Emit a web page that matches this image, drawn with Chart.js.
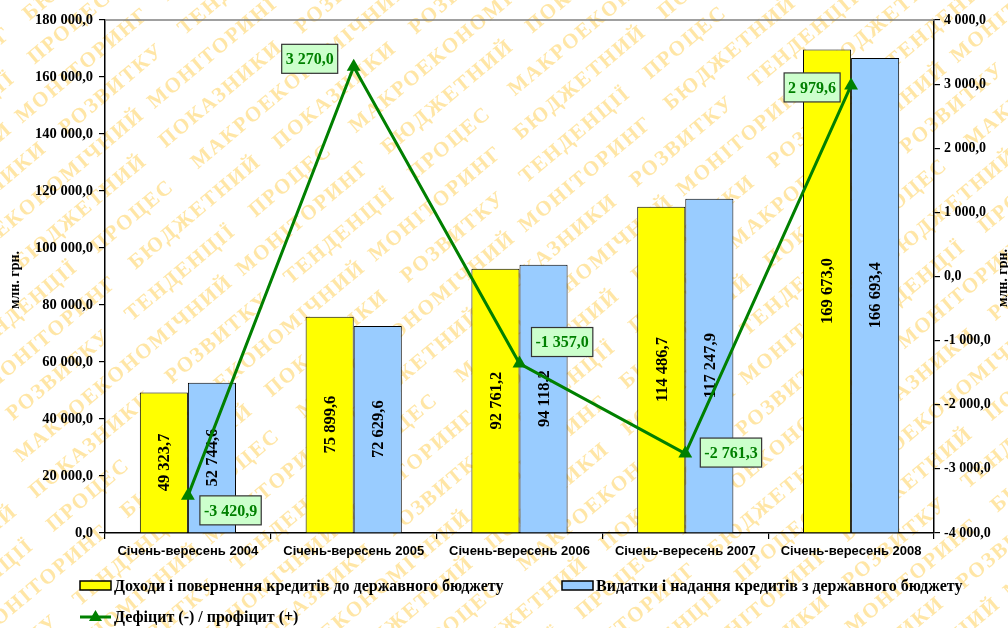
<!DOCTYPE html>
<html>
<head>
<meta charset="utf-8">
<script src="https://cdn.jsdelivr.net/npm/chart.js@4.4.1/dist/chart.umd.min.js"></script>
<style>
  html, body { margin: 0; padding: 0; background: #fff; }
  #wrap { width: 1008px; height: 628px; }
</style>
</head>
<body>
<div id="wrap"><canvas id="myChart" width="1008" height="628"></canvas></div>
<script>
const categories = ['Січень-вересень 2004', 'Січень-вересень 2005', 'Січень-вересень 2006', 'Січень-вересень 2007', 'Січень-вересень 2008'];
const revenues = [49323.7, 75899.6, 92761.2, 114486.7, 169673.0];
const spending = [52744.6, 72629.6, 94118.2, 117247.9, 166693.4];
const balance  = [-3420.9, 3270.0, -1357.0, -2761.3, 2979.6];

const seriesNames = ['Доходи і повернення кредитів до державного бюджету', 'Видатки і надання кредитів з державного бюджету', 'Дефіцит (-) / профіцит (+)'];
const unitLabel = 'млн. грн.';
const watermarkWords = ['ТЕНДЕНЦІЇ', 'ПРОЦЕС', 'МАКРОЕКОНОМІЧНИЙ', 'МОНІТОРИНГ', 'БЮДЖЕТНИЙ', 'ПОКАЗНИКИ', 'РОЗВИТКУ'];

// where the balance labels sit relative to their point
const balanceLabelSide = ['rightBelow', 'leftAbove', 'rightAbove', 'right', 'left'];

const SERIF = '"Liberation Serif", "Times New Roman", serif';
const SANS = '"Liberation Sans", Arial, sans-serif';
const GREEN = '#008000';

function fmt(v) {
    const neg = v < 0;
    let s = Math.abs(v).toFixed(1).split('.');
    let int = s[0].replace(/\B(?=(\d{3})+(?!\d))/g, ' ');
    return (neg ? '-' : '') + int + ',' + s[1];
}

// pale diagonal text behind everything
const watermark = {
    id: 'watermark',
    beforeDraw(chart) {
        const ctx = chart.ctx;
        ctx.save();
        ctx.fillStyle = '#fff';
        ctx.fillRect(0, 0, chart.width, chart.height);
        ctx.fillStyle = '#ffe6a6';
        ctx.font = 'bold 21px ' + SERIF;
        ctx.textBaseline = 'middle';
        ctx.translate(chart.width / 2, chart.height / 2);
        ctx.rotate(-40 * Math.PI / 180);
        let row = 0;
        for (let y = -720; y < 720; y += 37) {
            let x = -900 + (row * 53) % 150;
            let k = row * 3;
            while (x < 900) {
                const w = watermarkWords[k % watermarkWords.length];
                ctx.fillText(w.split('').join('\u200A'), x, y);
                x += ctx.measureText(w).width + 40;
                k++;
            }
            row++;
        }
        ctx.restore();
    }
};

const frameLines = {
    id: 'frameLines',
    beforeDatasetsDraw(chart) {
        const { ctx, chartArea } = chart;
        ctx.save();
        ctx.strokeStyle = '#808080';
        ctx.lineWidth = 1.5;
        ctx.beginPath();
        ctx.moveTo(chartArea.left, chartArea.top);
        ctx.lineTo(chartArea.right, chartArea.top);
        ctx.stroke();
        ctx.restore();
    }
};

// vertical value labels in the middle of each bar
const barLabels = {
    id: 'barLabels',
    afterDatasetDraw(chart, args) {
        if (args.index > 1) return;
        const ctx = chart.ctx;
        const data = chart.data.datasets[args.index].data;
        ctx.save();
        ctx.fillStyle = '#000';
        ctx.font = 'bold 16.5px ' + SERIF;
        ctx.textAlign = 'center';
        ctx.textBaseline = 'middle';
        args.meta.data.forEach((bar, i) => {
            const cy = (bar.y + bar.base) / 2;
            ctx.save();
            ctx.translate(bar.x, cy);
            ctx.rotate(-Math.PI / 2);
            ctx.fillText(fmt(data[i]), 0, 1);
            ctx.restore();
        });
        ctx.restore();
    }
};

const balanceLabels = {
    id: 'balanceLabels',
    afterDatasetsDraw(chart) {
        const ctx = chart.ctx;
        const meta = chart.getDatasetMeta(2);
        ctx.save();
        ctx.font = 'bold 16px ' + SERIF;
        ctx.textBaseline = 'middle';
        meta.data.forEach((pt, i) => {
            const txt = fmt(balance[i]);
            const w = ctx.measureText(txt).width + 8;
            const h = 29;
            let bx, by;
            switch (balanceLabelSide[i]) {
                case 'rightBelow': bx = pt.x + 12; by = pt.y; break;
                case 'leftAbove': bx = pt.x - 16 - w; by = pt.y - 8 - h / 2; break;
                case 'rightAbove': bx = pt.x + 12; by = pt.y - 7 - h; break;
                case 'right': bx = pt.x + 15; by = pt.y - 1 - h / 2; break;
                default: bx = pt.x - 11 - w; by = pt.y + 2 - h / 2;
            }
            ctx.fillStyle = '#ccffcc';
            ctx.fillRect(bx, by, w, h);
            ctx.strokeStyle = '#333';
            ctx.lineWidth = 1.2;
            ctx.strokeRect(bx, by, w, h);
            ctx.fillStyle = GREEN;
            ctx.fillText(txt, bx + 4, by + h / 2 + 1);
        });
        ctx.restore();
    }
};

const legendAndTitles = {
    id: 'legendAndTitles',
    afterDraw(chart) {
        const ctx = chart.ctx;
        const ds = chart.data.datasets;
        ctx.save();
        ctx.font = 'bold 16px ' + SERIF;
        ctx.textBaseline = 'middle';
        ctx.fillStyle = '#000';
        // bar entries
        [[80, 586, 0], [562, 586, 1]].forEach(([x, y, i]) => {
            ctx.fillStyle = ds[i].backgroundColor;
            ctx.fillRect(x, y - 5, 31, 9);
            ctx.strokeStyle = '#000';
            ctx.lineWidth = 1.5;
            ctx.strokeRect(x, y - 5, 31, 9);
            ctx.fillStyle = '#000';
            ctx.fillText(ds[i].label, x + 34, y + 1);
        });
        // line entry
        const ly = 617;
        ctx.strokeStyle = GREEN;
        ctx.lineWidth = 3;
        ctx.beginPath();
        ctx.moveTo(80, ly);
        ctx.lineTo(111, ly);
        ctx.stroke();
        ctx.fillStyle = GREEN;
        ctx.beginPath();
        ctx.moveTo(95.5, ly - 7);
        ctx.lineTo(102, ly + 4);
        ctx.lineTo(89, ly + 4);
        ctx.closePath();
        ctx.fill();
        ctx.fillStyle = '#000';
        ctx.fillText(ds[2].label, 114, ly + 1);

        // unit titles on both axes
        ctx.font = 'bold 14px ' + SERIF;
        ctx.textAlign = 'center';
        [[15, 280], [1003, 278]].forEach(([x, y]) => {
            ctx.save();
            ctx.translate(x, y);
            ctx.rotate(-Math.PI / 2);
            ctx.fillText(unitLabel, 0, 0);
            ctx.restore();
        });
        ctx.restore();
    }
};

const ctx = document.getElementById('myChart').getContext('2d');
const chart = new Chart(ctx, {
    type: 'bar',
    data: {
        labels: categories,
        datasets: [
            { label: seriesNames[0], data: revenues, backgroundColor: '#ffff00', borderColor: '#000', borderWidth: 1, yAxisID: 'y', order: 1 },
            { label: seriesNames[1], data: spending, backgroundColor: '#99ccff', borderColor: '#000', borderWidth: 1, yAxisID: 'y', order: 1 },
            { label: seriesNames[2], data: balance, type: 'line', yAxisID: 'y1', order: 0,
              borderColor: GREEN, borderWidth: 3, backgroundColor: GREEN,
              pointStyle: 'triangle', pointRadius: 8, pointBackgroundColor: GREEN, pointBorderColor: GREEN, pointBorderWidth: 0,
              tension: 0 }
        ]
    },
    options: {
        responsive: false,
        animation: false,
        devicePixelRatio: 1,
        layout: { padding: { top: 20, bottom: 67, left: 0, right: 0 } },
        plugins: { legend: { display: false }, tooltip: { enabled: false } },
        datasets: { bar: { categoryPercentage: 0.58, barPercentage: 1.0 } },
        scales: {
            x: {
                grid: { offset: true, drawOnChartArea: false, color: '#000', tickLength: 6, lineWidth: 1.2 },
                border: { color: '#000', width: 1.5 },
                ticks: { color: '#000', font: { family: SANS, weight: 'bold', size: 13 }, padding: 5, maxRotation: 0 },
                afterFit(s) { s.height = 28; }
            },
            y: {
                position: 'left', min: 0, max: 180000,
                grid: { drawOnChartArea: false, color: '#000', tickLength: 6, lineWidth: 1.2 },
                border: { color: '#000', width: 1.5 },
                ticks: { stepSize: 20000, color: '#000', padding: 6, font: { family: SERIF, weight: 'bold', size: 14.5 }, callback: v => fmt(v) },
                afterFit(s) { s.width = 105; }
            },
            y1: {
                position: 'right', min: -4000, max: 4000,
                grid: { drawOnChartArea: false, color: '#000', tickLength: 6, lineWidth: 1.2 },
                border: { color: '#000', width: 1.5 },
                ticks: { stepSize: 1000, color: '#000', padding: 4, font: { family: SERIF, weight: 'bold', size: 14 }, callback: v => fmt(v) },
                afterFit(s) { s.width = 74; }
            }
        }
    },
    plugins: [watermark, frameLines, barLabels, balanceLabels, legendAndTitles]
});
</script>
</body>
</html>
